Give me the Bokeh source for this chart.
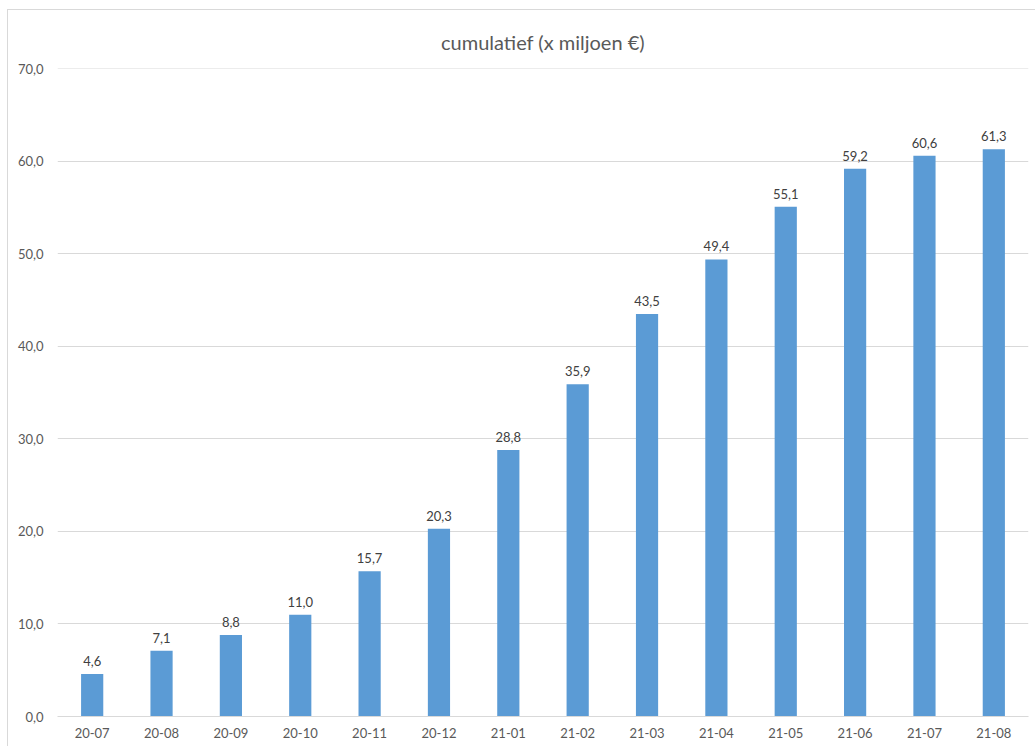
from bokeh.plotting import figure
from bokeh.models import ColumnDataSource, FactorRange, CustomJSTickFormatter, FixedTicker
from bokeh.embed import file_html
from bokeh.resources import INLINE
from bokeh.core.properties import value

months = ["20-07", "20-08", "20-09", "20-10", "20-11", "20-12", "21-01",
          "21-02", "21-03", "21-04", "21-05", "21-06", "21-07", "21-08"]
cumulative = [4.6, 7.1, 8.8, 11.0, 15.7, 20.3, 28.8, 35.9, 43.5, 49.4, 55.1, 59.2, 60.6, 61.3]
y_ticks = [0, 10, 20, 30, 40, 50, 60, 70]

labels = [f"{v:.1f}".replace(".", ",") for v in cumulative]
src = ColumnDataSource(dict(x=months, y=cumulative, lab=labels))

FONT = "Lato"

# the figure sits inside the chart's light-grey outer border (top-left at 7, 9)
p = figure(x_range=FactorRange(*months, range_padding=0), y_range=(0, 70.03),
           width=1028, height=737, output_backend="svg", toolbar_location=None,
           min_border_left=49, min_border_right=8, min_border_top=58, min_border_bottom=31,
           title="cumulatief (x miljoen €)")
p.margin = (9, 0, 0, 7)
p.styles = {"border-top": "1px solid #D9D9D9", "border-left": "1px solid #D9D9D9"}
p.title.align = "center"
p.title.text_font = FONT
p.title.text_font_size = "20px"
p.title.text_font_style = "normal"
p.title.text_color = "#595959"
p.title.offset = 0
p.title.standoff = 30

p.vbar(x="x", top="y", width=0.32, source=src, color="#5B9BD5", line_color=None)
p.text(x="x", y="y", text="lab", source=src, text_align="center", text_baseline="bottom",
       y_offset=-8, text_font=value(FONT), text_font_size="13px", text_color="#404040")

p.outline_line_color = None
p.xgrid.grid_line_color = None
p.ygrid.grid_line_color = "#D9D9D9"
p.ygrid.grid_line_width = 1

p.yaxis.ticker = FixedTicker(ticks=y_ticks)
p.yaxis.formatter = CustomJSTickFormatter(code="return tick.toFixed(1).replace('.', ',');")
p.yaxis.axis_line_color = None
p.yaxis.major_tick_line_color = None
p.yaxis.minor_tick_line_color = None
p.yaxis.major_label_standoff = 8
p.yaxis.major_label_text_font = FONT
p.yaxis.major_label_text_font_size = "13px"
p.yaxis.major_label_text_color = "#595959"

p.xaxis.axis_line_color = "#D9D9D9"
p.xaxis.major_tick_line_color = None
p.xaxis.minor_tick_line_color = None
p.xaxis.major_label_standoff = 5
p.xaxis.major_label_text_font = FONT
p.xaxis.major_label_text_font_size = "13px"
p.xaxis.major_label_text_color = "#595959"

open("out.html", "w").write(file_html(p, INLINE))
